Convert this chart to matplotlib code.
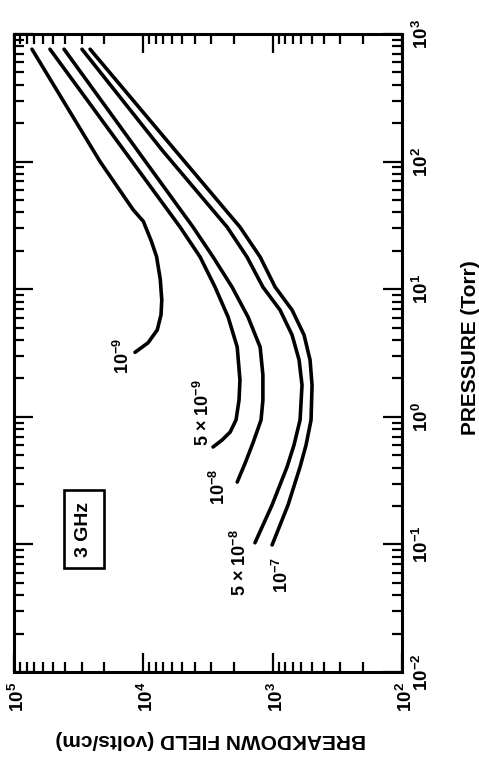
import numpy as np
import matplotlib
matplotlib.use("Agg")
import matplotlib.pyplot as plt
import matplotlib.transforms as mtransforms
from matplotlib.ticker import LogLocator, LogFormatterSciNotation, NullFormatter

# breakdown field vs pressure at 3 GHz, one curve per diffusion length value
# each curve: pressure (Torr) and breakdown field (volts/cm)
p_1e9 = [760, 100, 42, 34, 24, 18, 12, 8.2, 6.3, 4.8, 3.8, 3.2]
e_1e9 = [72600, 21600, 12000, 10000, 8700, 7900, 7400, 7200, 7300, 7800, 9200, 11600]

p_5e9 = [760, 30.7, 17.9, 10.4, 6.05, 3.52, 1.94, 1.35, 0.944, 0.76, 0.658, 0.58]
e_5e9 = [52700, 5200, 3640, 2790, 2210, 1880, 1790, 1820, 1920, 2130, 2460, 2890]

p_1e8 = [760, 30.7, 17.9, 10.4, 6.05, 3.52, 2.13, 1.35, 0.944, 0.624, 0.435, 0.308]
e_1e8 = [41000, 4130, 2890, 2060, 1550, 1250, 1190, 1190, 1230, 1420, 1630, 1880]

p_5e8 = [760, 123, 30.7, 17.9, 10.4, 6.87, 4.38, 2.79, 1.77, 0.944, 0.601, 0.405, 0.204, 0.103]
e_5e8 = [29800, 7160, 2250, 1580, 1190, 877, 708, 625, 593, 614, 684, 774, 1010, 1370]

p_1e7 = [760, 123, 30.7, 17.9, 10.4, 6.87, 4.38, 2.79, 1.77, 0.944, 0.601, 0.405, 0.204, 0.099]
e_1e7 = [25800, 5690, 1790, 1250, 957, 708, 572, 514, 496, 505, 552, 614, 760, 1010]

curve_labels = [r"$\mathdefault{10^{-9}}$", r"5 × $\mathdefault{10^{-9}}$", r"$\mathdefault{10^{-8}}$",
                r"5 × $\mathdefault{10^{-8}}$", r"$\mathdefault{10^{-7}}$"]
label_field = [14400, 3450, 2600, 1790, 845]
label_pressure = [2.99, 1.07, 0.282, 0.0714, 0.0575]

plt.rcParams["font.family"] = ["Liberation Sans", "DejaVu Sans"]
plt.rcParams["font.weight"] = "bold"
plt.rcParams["mathtext.fontset"] = "custom"
plt.rcParams["mathtext.rm"] = "Liberation Sans:bold"

fig = plt.figure(figsize=(4.79, 7.59), dpi=100)
W, H = 479, 759
ax = fig.add_axes([14 / W, 87 / H, 388 / W, 638 / H])

for p, e in [(p_1e9, e_1e9), (p_5e9, e_5e9), (p_1e8, e_1e8), (p_5e8, e_5e8), (p_1e7, e_1e7)]:
    ax.plot(e, p, color="black", lw=2.6, solid_capstyle="round", solid_joinstyle="round")

for txt, ef, pr in zip(curve_labels, label_field, label_pressure):
    ax.text(ef, pr, txt, rotation=90, ha="center", va="center", fontsize=13)

ax.text(28800, 0.132, "3 GHz", rotation=90, ha="center", va="center", fontsize=14,
        bbox=dict(boxstyle="square,pad=0.6", fc="white", ec="black", lw=1.9))

ax.set_xscale("log")
ax.set_yscale("log")
ax.set_xlim(1e5, 1e2)
ax.set_ylim(1e-2, 1e3)

for axis in (ax.xaxis, ax.yaxis):
    axis.set_major_locator(LogLocator(base=10, numticks=10))
    axis.set_minor_locator(LogLocator(base=10, subs=np.arange(2, 10), numticks=10))
    axis.set_major_formatter(LogFormatterSciNotation())
    axis.set_minor_formatter(NullFormatter())

ax.tick_params(which="both", direction="in", top=True, bottom=True, left=True, right=True,
               labelleft=False, labelright=True, labelbottom=True, width=1.6)
ax.tick_params(which="major", length=14)
ax.tick_params(which="minor", length=7)
ax.tick_params(axis="x", labelrotation=90, labelsize=13.5, pad=7)
ax.tick_params(axis="y", labelrotation=90, labelsize=13.5, pad=7)
for lab in ax.get_yticklabels():
    lab.set_verticalalignment("center")
# nudge the field labels so the "10" sits over the tick
shift = mtransforms.ScaledTranslation(4 / 100, 0, fig.dpi_scale_trans)
for lab in ax.get_xticklabels():
    lab.set_transform(lab.get_transform() + shift)

for s in ax.spines.values():
    s.set_linewidth(2.2)

fig.text(211 / W, 1 - 740 / H, "BREAKDOWN FIELD (volts/cm)", rotation=180,
         ha="center", va="center", fontsize=15)
fig.text(470 / W, 1 - 348 / H, "PRESSURE (Torr)", rotation=90,
         ha="center", va="center", fontsize=15)

fig.savefig("out.png", dpi=100)
